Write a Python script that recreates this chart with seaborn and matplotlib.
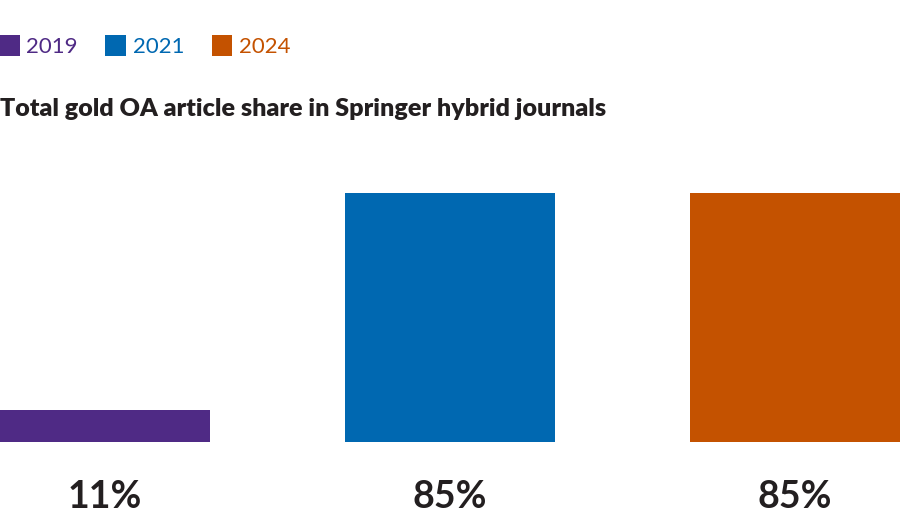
import matplotlib
matplotlib.use("Agg")
import matplotlib.pyplot as plt
import matplotlib.transforms as mtransforms
import seaborn as sns
import pandas as pd

years = ["2019", "2021", "2024"]
shares = [11, 85, 85]
labels = ["11%", "85%", "85%"]
colors = ["#4f2a85", "#0068b1", "#c45200"]
title = "Total gold OA article share in Springer hybrid journals"

sns.set_theme(style="white")
plt.rcParams["font.family"] = ["Lato", "DejaVu Sans"]

df = pd.DataFrame({"year": years, "share": shares})

W, H = 901, 531
fig = plt.figure(figsize=(W / 100, H / 100), dpi=100)
bw = 210 / 345
half = 450 / 345
bottom_px, top85_px = 442, 193
ax_bottom = (H - bottom_px) / H
ax_h = ((H - top85_px) / H - ax_bottom) / 0.85
ax = fig.add_axes([0, ax_bottom, 900 / W, ax_h])

sns.barplot(data=df, x="year", y="share", hue="year", palette=colors,
            width=bw, dodge=False, legend=True, ax=ax, saturation=1, linewidth=0)
ax.set_xlim(1 - half, 1 + half)
ax.set_ylim(0, 100)
ax.axis("off")

handles, lbls = ax.get_legend_handles_labels()
ax.get_legend().remove()
leg = fig.legend(handles, lbls, loc="center left", bbox_to_anchor=(-0.001, (H - 46) / H),
                 ncol=3, frameon=False, fontsize=16, handlelength=0.92, handleheight=1.05,
                 handletextpad=0.3, columnspacing=1.25, borderaxespad=0, borderpad=0)
for t, c in zip(leg.get_texts(), colors):
    t.set_color(c)

tt = fig.text(0.0, (H - 109) / H, title, fontsize=20, fontweight="heavy",
              color="#231f20", va="center", ha="left")
fig.canvas.draw()
r = fig.canvas.get_renderer()
wpx = tt.get_window_extent(r).width
tt.set_fontsize(20 * 607 / wpx)

trans = mtransforms.blended_transform_factory(ax.transData, fig.transFigure)
for i, lab in enumerate(labels):
    ax.text(i, (H - 497) / H, lab, transform=trans, ha="center", va="center",
            fontsize=27, fontweight="bold", color="#231f20")

fig.savefig("out.png", dpi=100)
